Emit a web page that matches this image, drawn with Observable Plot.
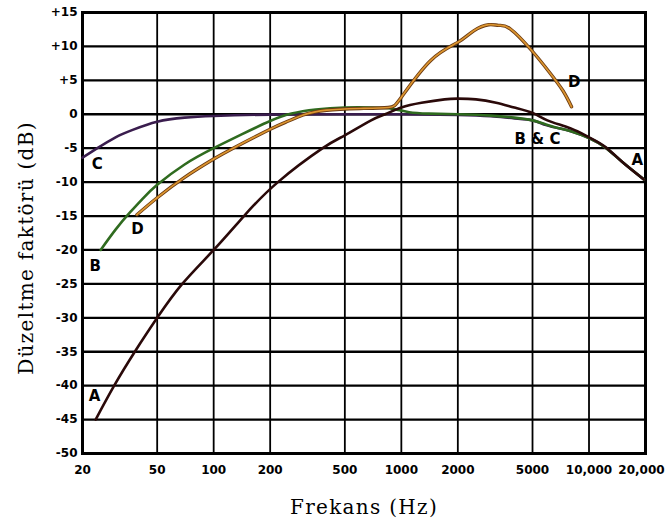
<!DOCTYPE html>
<html>
<head>
<meta charset="utf-8">
<script src="https://cdn.jsdelivr.net/npm/d3@7"></script>
<script src="https://cdn.jsdelivr.net/npm/@observablehq/plot@0.6"></script>
<style>
  html, body { margin: 0; padding: 0; background: #fff; }
</style>
</head>
<body>
<div id="chart"></div>
<script>
// Axis ticks and labels
const xTicks = [20, 50, 100, 200, 500, 1000, 2000, 5000, 10000, 20000];
const xLabels = ["20", "50", "100", "200", "500", "1000", "2000", "5000", "10,000", "20,000"];
const yTicks = [15, 10, 5, 0, -5, -10, -15, -20, -25, -30, -35, -40, -45, -50];
const yLabels = ["+15", "+10", "+5", "0", "-5", "-10", "-15", "-20", "-25", "-30", "-35", "-40", "-45", "-50"];

// Curve A
const aFreq = [23.5, 29.5, 38, 50, 68, 100, 145, 220, 381, 500, 690, 820, 1000, 1280, 1700, 2000, 2500, 3200, 4000, 5000, 6000, 8000, 10000, 12200, 15000, 19600];
const aDb   = [-45, -40, -35, -30, -25, -20, -15, -10, -5, -3.1, -0.9, 0, 1.0, 1.7, 2.2, 2.3, 2.2, 1.7, 1.0, 0.2, -0.9, -2.1, -3.4, -4.8, -7.0, -9.6];

// Curve B
const bFreq = [25, 30, 36, 42, 50, 70, 100, 140, 200, 260, 350, 500, 700, 900, 1100, 1400, 2000, 3000, 4000, 5000, 5900, 7000, 8000, 10000, 12200, 15000, 19600];
const bDb   = [-20, -17.0, -14.4, -12.4, -10.4, -7.4, -5.0, -3.0, -1.0, 0.1, 0.7, 1.0, 1.0, 0.8, 0.3, 0.1, 0, -0.2, -0.5, -0.9, -1.5, -2.1, -2.5, -3.5, -4.9, -7.0, -9.6];

// Curve C
const cFreq = [20, 24, 30, 37, 50, 70, 100, 200, 500, 1000, 2000, 3000, 4000, 5000, 5900, 7000, 8000, 10000, 12200, 15000, 19600];
const cDb   = [-6.4, -5.0, -3.4, -2.3, -1.1, -0.5, -0.25, -0.05, 0, 0, -0.1, -0.3, -0.6, -0.9, -1.6, -2.1, -2.5, -3.5, -4.9, -7.0, -9.6];

// Curve D
const dFreq = [39, 50, 70, 100, 127, 200, 250, 300, 400, 600, 850, 1000, 1430, 2000, 2430, 2920, 3300, 3800, 4950, 6150, 7250, 8070];
const dDb   = [-14.8, -12.3, -9.3, -6.6, -5.0, -2.2, -1.0, -0.1, 0.6, 0.85, 1.0, 2.5, 7.9, 10.6, 12.3, 13.2, 13.1, 12.6, 9.4, 6.2, 3.5, 1.1];

// Curve labels (frequency, dB, text)
const labelText = ["A", "B", "C", "D", "D", "B & C", "A"];
const labelFreq = [23.2, 23.4, 24.0, 39.3, 8350, 5310, 18100];
const labelDb   = [-41.6, -22.4, -7.4, -17.0, 4.8, -3.6, -6.8];

const xTitle = "Frekans (Hz)";
const yTitle = "Düzeltme faktörü (dB)";

const toRows = (f, d) => f.map((v, i) => ({f: v, db: d[i]}));
const A = toRows(aFreq, aDb);
const B = toRows(bFreq, bDb);
const C = toRows(cFreq, cDb);
const D = toRows(dFreq, dDb);
const labels = labelText.map((t, i) => ({t, f: labelFreq[i], db: labelDb[i]}));
const xTickRows = xTicks.map((v, i) => ({v, label: xLabels[i]}));
const yTickRows = yTicks.map((v, i) => ({v, label: yLabels[i]}));
const lastX = xTickRows.length - 1;

const curve = "natural";
const tickFont = {fontSize: 12, fontWeight: "bold", fontFamily: "DejaVu Sans", fill: "#000"};
const chart = Plot.plot({
  width: 667,
  height: 529,
  marginLeft: 82,
  marginRight: 22,
  marginTop: 12,
  marginBottom: 76,
  style: {background: "#fff", color: "#000"},
  x: {type: "log", domain: [20, 20000], axis: null},
  y: {domain: [-50, 15], axis: null},
  marks: [
    Plot.ruleY(yTickRows, {y: "v", stroke: "#000", strokeWidth: 2.3}),
    Plot.ruleX(xTickRows, {x: "v", stroke: "#000", strokeWidth: 1.8}),
    Plot.frame({stroke: "#000", strokeWidth: 3}),
    Plot.text(yTickRows, {
      y: "v", text: "label", frameAnchor: "left", textAnchor: "end", dx: -5, ...tickFont
    }),
    Plot.text(xTickRows.slice(0, lastX), {
      x: "v", text: "label", frameAnchor: "bottom", lineAnchor: "top", dy: 12, ...tickFont
    }),
    Plot.text(xTickRows.slice(lastX), {
      x: "v", text: "label", frameAnchor: "bottom", lineAnchor: "top", dy: 12, dx: -4, ...tickFont
    }),
    Plot.line(C, {x: "f", y: "db", stroke: "#3a1d4e", strokeWidth: 2.6, curve}),
    Plot.line(B, {x: "f", y: "db", stroke: "#2f6b1f", strokeWidth: 2.6, curve}),
    Plot.line(D, {x: "f", y: "db", stroke: "#6b3a12", strokeWidth: 3.4, curve}),
    Plot.line(D, {x: "f", y: "db", stroke: "#dc952f", strokeWidth: 1.7, curve}),
    Plot.line(A, {x: "f", y: "db", stroke: "#2a0909", strokeWidth: 2.6, curve}),
    Plot.text(labels, {
      x: "f", y: "db", text: "t",
      fontSize: 15, fontWeight: "bold", fontFamily: "DejaVu Sans", fill: "#000"
    }),
    Plot.text([xTitle], {
      text: d => d, frameAnchor: "bottom", textAnchor: "middle", dy: 60,
      fontSize: 20, fontFamily: "DejaVu Serif", fill: "#000"
    }),
    Plot.text([yTitle], {
      text: d => d, frameAnchor: "left", textAnchor: "middle", dx: -56, dy: 15, rotate: -90,
      fontSize: 20, fontFamily: "DejaVu Serif", fill: "#000"
    })
  ]
});

d3.select(chart).selectAll("text")
  .filter(function() { return this.textContent === xTitle || this.textContent === yTitle; })
  .style("letter-spacing", "1.3px");

document.getElementById("chart").appendChild(chart);
</script>
</body>
</html>
